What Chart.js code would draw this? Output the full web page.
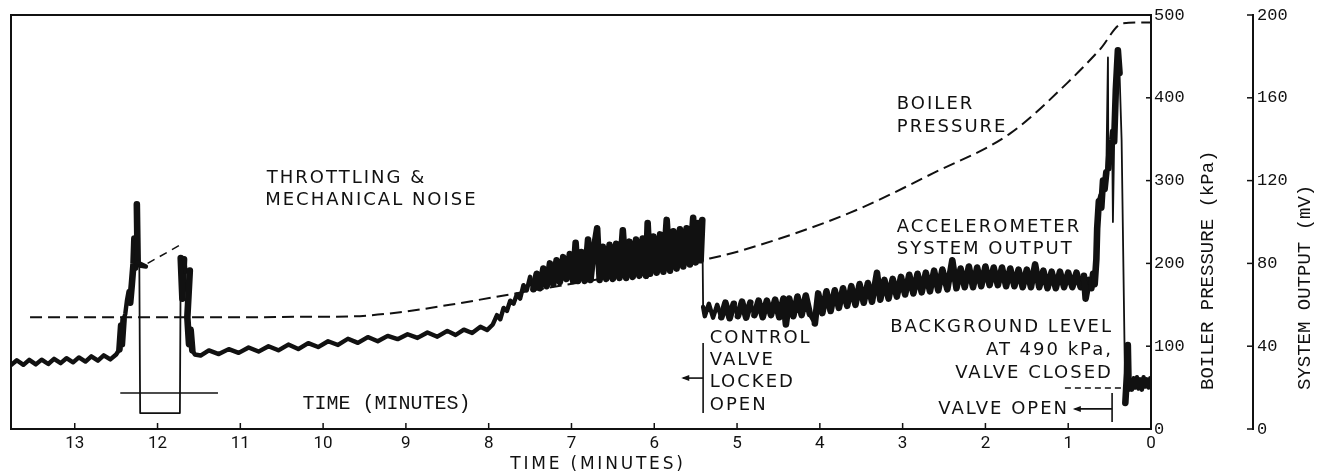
<!DOCTYPE html>
<html>
<head>
<meta charset="utf-8">
<script src="https://cdn.jsdelivr.net/npm/chart.js@4.4.1/dist/chart.umd.min.js"></script>
<style>
  html, body { margin: 0; padding: 0; background: #fff; }
  #wrap { width: 1323px; height: 476px; }
</style>
</head>
<body>
<div id="wrap"><canvas id="chart" width="1323" height="476"></canvas></div>
<script>
// tick labels
const minuteTicks   = [13, 12, 11, 10, 9, 8, 7, 6, 5, 4, 3, 2, 1, 0];
const pressureTicks = [0, 100, 200, 300, 400, 500];
const outputTicks   = [0, 40, 80, 120, 160, 200];

// accelerometer system output, [time (min), mV]
const tracePreThrottle = [
  [13.77, 30.9], [13.70, 33.2], [13.62, 31.0], [13.55, 33.4], [13.47, 31.2], [13.40, 33.5],
  [13.32, 31.4], [13.25, 33.9], [13.17, 31.8], [13.10, 34.2], [13.02, 32.2], [12.95, 34.6],
  [12.87, 32.6], [12.80, 35.1], [12.72, 33.0], [12.65, 35.6], [12.57, 33.6], [12.50, 36.0]
];
const traceThrottle = [
  [12.46, 38.5], [12.44, 50.0], [12.43, 41.0], [12.41, 53.0], [12.39, 55.5], [12.37, 62.0],
  [12.35, 66.5], [12.33, 61.0], [12.31, 70.0], [12.29, 80.0], [12.28, 92.0], [12.27, 78.0],
  [12.25, 108.5], [12.24, 80.5], [12.14, 78.5], [12.22, 79.0], [12.21, 7.7], [11.73, 7.7],
  [11.72, 82.6], [11.70, 63.0], [11.68, 82.0], [11.66, 76.0], [11.61, 76.5], [11.64, 54.0],
  [11.62, 41.0], [11.60, 48.0], [11.58, 38.0], [11.55, 36.0]
];
const traceSlowRise = [
  [11.48, 35.5], [11.38, 38.0], [11.26, 36.2], [11.14, 38.6], [11.02, 36.8], [10.90, 39.4],
  [10.78, 37.4], [10.66, 40.0], [10.54, 38.0], [10.42, 40.8], [10.30, 38.6], [10.18, 41.5],
  [10.06, 39.6], [9.94, 42.4], [9.82, 40.6], [9.70, 43.6], [9.58, 41.6], [9.46, 44.4],
  [9.34, 42.4], [9.22, 45.0], [9.10, 43.4], [8.98, 45.8], [8.86, 44.0], [8.74, 46.6],
  [8.62, 44.6], [8.50, 47.4], [8.40, 45.4], [8.30, 48.0], [8.20, 46.4], [8.10, 49.4],
  [8.02, 47.8]
];
const traceNoisy = [
  [7.95, 50.5], [7.90, 55.0], [7.86, 53.0], [7.82, 58.5], [7.78, 57.0], [7.74, 62.0],
  [7.70, 60.5], [7.66, 65.0], [7.62, 63.0], [7.58, 69.5], [7.54, 67.0], [7.50, 73.5],
  [7.46, 67.5], [7.42, 75.0], [7.38, 68.0], [7.34, 77.5], [7.30, 69.0], [7.26, 80.0],
  [7.22, 70.0], [7.18, 81.5], [7.14, 71.0], [7.10, 83.0], [7.06, 72.5], [7.02, 84.5],
  [6.98, 71.5], [6.95, 90.0], [6.92, 71.5], [6.88, 85.5], [6.84, 71.5], [6.80, 91.5],
  [6.77, 72.0], [6.73, 87.0], [6.69, 97.0], [6.66, 72.0], [6.62, 88.0], [6.58, 72.5],
  [6.54, 89.0], [6.50, 72.5], [6.46, 89.5], [6.42, 73.0], [6.38, 96.0], [6.34, 73.0],
  [6.30, 90.5], [6.26, 73.5], [6.22, 91.5], [6.18, 74.0], [6.14, 92.0], [6.10, 74.0],
  [6.08, 99.5], [6.05, 75.0], [6.01, 93.0], [5.97, 75.5], [5.93, 94.0], [5.89, 76.0],
  [5.85, 101.0], [5.81, 76.5], [5.77, 95.5], [5.73, 77.5], [5.69, 96.5], [5.65, 78.5],
  [5.61, 97.0], [5.57, 79.5], [5.53, 102.0], [5.50, 80.5], [5.47, 99.5], [5.44, 81.5],
  [5.42, 101.0], [5.41, 59.0]
];
const traceAfterLock = [
  [5.39, 54.5], [5.34, 60.5], [5.29, 53.8], [5.24, 60.0], [5.19, 54.0], [5.14, 61.0],
  [5.09, 53.5], [5.04, 60.5], [4.99, 54.5], [4.94, 61.5], [4.89, 53.8], [4.84, 61.0],
  [4.79, 55.0], [4.74, 62.0], [4.69, 54.0], [4.64, 62.0], [4.59, 55.0], [4.54, 62.5],
  [4.49, 54.0], [4.44, 63.0], [4.41, 50.5], [4.37, 63.0], [4.32, 54.5], [4.27, 64.0],
  [4.22, 55.0], [4.17, 64.5], [4.12, 55.5], [4.06, 51.0], [4.02, 65.5], [3.97, 56.0],
  [3.92, 66.5], [3.87, 57.0], [3.82, 67.0], [3.77, 58.5], [3.72, 68.0], [3.67, 59.5],
  [3.62, 69.0], [3.57, 60.0], [3.52, 70.0], [3.47, 61.0], [3.42, 70.5], [3.37, 61.5],
  [3.31, 75.5], [3.27, 62.5], [3.22, 72.0], [3.17, 63.0], [3.12, 72.5], [3.07, 64.0],
  [3.02, 73.5], [2.97, 65.0], [2.92, 74.5], [2.87, 65.5], [2.82, 75.0], [2.77, 66.0],
  [2.72, 75.5], [2.67, 66.5], [2.62, 76.5], [2.57, 67.0], [2.52, 77.0], [2.46, 67.5],
  [2.40, 81.5], [2.35, 68.0], [2.30, 77.5], [2.25, 68.5], [2.20, 78.5], [2.15, 68.5],
  [2.10, 78.0], [2.05, 69.0], [2.00, 78.5], [1.95, 69.5], [1.90, 78.0], [1.85, 69.5],
  [1.80, 78.0], [1.75, 69.0], [1.70, 77.5], [1.65, 69.0], [1.60, 77.0], [1.55, 68.5],
  [1.50, 77.0], [1.45, 68.5], [1.40, 79.5], [1.35, 68.5], [1.30, 76.5], [1.25, 68.0],
  [1.20, 76.0], [1.15, 68.0], [1.10, 76.0], [1.05, 68.5], [1.00, 75.5], [0.95, 68.5],
  [0.90, 75.5], [0.85, 68.5], [0.81, 74.0], [0.79, 63.0], [0.75, 72.0], [0.72, 68.0],
  [0.70, 75.0]
];
const traceValveOpen = [
  [0.68, 70.0], [0.66, 82.0], [0.65, 97.0], [0.63, 110.0], [0.61, 113.0], [0.60, 107.0],
  [0.58, 120.0], [0.56, 116.0], [0.54, 124.0], [0.52, 179.5], [0.515, 126.0], [0.50, 134.0],
  [0.48, 140.0], [0.47, 144.0], [0.46, 100.0], [0.445, 139.0], [0.425, 163.8], [0.40, 183.0],
  [0.38, 172.0], [0.355, 139.6], [0.31, 12.6], [0.29, 27.0], [0.28, 40.5], [0.27, 19.5],
  [0.25, 23.7], [0.23, 19.0], [0.21, 24.5], [0.19, 20.0], [0.17, 25.0], [0.15, 19.5],
  [0.13, 24.0], [0.11, 19.0], [0.09, 25.0], [0.07, 20.5], [0.05, 24.0], [0.03, 20.0],
  [0.01, 24.5], [0.00, 22.0]
];

// boiler pressure, [time (min), kPa]
const boilerPressure = [
  [13.54, 135], [12.5, 135], [11.5, 135], [10.88, 135], [10.28, 135.5], [9.67, 136],
  [9.07, 141], [8.47, 150], [7.66, 164], [6.5, 184], [5.33, 206], [4.93, 216],
  [3.64, 261], [2.63, 309], [1.70, 357], [1.01, 418], [0.62, 458], [0.34, 490], [0.0, 491]
];
const throttlePressure = [[12.12, 200], [11.68, 225]];

// reference marks, [time (min), mV]
const throttleBase  = [[12.45, 17.4], [11.27, 17.4]];
const backgroundLvl = [[1.04, 19.8], [0.34, 19.8]];
const lockedBar     = [[5.41, 41.5], [5.41, 7.7]];
const lockedArrow   = [[5.65, 24.6], [5.41, 24.6]];
const openBar       = [[0.47, 17.4], [0.47, 3.4]];
const openArrow     = [[0.92, 9.7], [0.47, 9.7]];

const ink = '#111';
const pts = arr => arr.map(p => ({x: p[0], y: p[1]}));

const notes = [
  {text: 'THROTTLING &', t: 10.68, v: 121.3},
  {text: 'MECHANICAL NOISE', t: 10.70, v: 110.6},
  {text: 'BOILER', t: 3.07, v: 156.8},
  {text: 'PRESSURE', t: 3.07, v: 145.6},
  {text: 'ACCELEROMETER', t: 3.07, v: 97.6},
  {text: 'SYSTEM OUTPUT', t: 3.07, v: 87.0},
  {text: 'CONTROL', t: 5.33, v: 44.0},
  {text: 'VALVE', t: 5.33, v: 33.3},
  {text: 'LOCKED', t: 5.33, v: 22.7},
  {text: 'OPEN', t: 5.33, v: 11.6},
  {text: 'BACKGROUND LEVEL', t: 0.46, v: 49.3, align: 'right'},
  {text: 'AT 490 kPa,', t: 0.46, v: 38.2, align: 'right'},
  {text: 'VALVE CLOSED', t: 0.46, v: 27.1, align: 'right'},
  {text: 'VALVE OPEN', t: 2.57, v: 9.7}
];

function line(ctx, x1, y1, x2, y2) {
  ctx.beginPath(); ctx.moveTo(x1, y1); ctx.lineTo(x2, y2); ctx.stroke();
}

// long jumps of the pen (spikes, the throttling drop-out) are drawn thin,
// steep noise strokes wide so the band closes up, the rest medium
function penWidth(c) {
  const dy = Math.abs(c.p1.y - c.p0.y), dx = Math.abs(c.p1.x - c.p0.x);
  if (dy > 58 || dx > 20) return 1.8;
  return dy > 14 ? 6.6 : 4.4;
}

const overlay = {
  id: 'overlay',
  afterDatasetsDraw(chart) {
    const {ctx, chartArea: a, scales: {x, kpa, mv}} = chart;
    ctx.save();
    ctx.strokeStyle = ink;
    ctx.fillStyle = ink;

    // frame top + left
    ctx.lineWidth = 2;
    ctx.beginPath();
    ctx.moveTo(a.left, a.bottom); ctx.lineTo(a.left, a.top); ctx.lineTo(a.right, a.top);
    ctx.stroke();

    // inward tick marks
    ctx.lineWidth = 1.5;
    minuteTicks.forEach(v => { const px = x.getPixelForValue(v); line(ctx, px, a.bottom, px, a.bottom - 6); });
    pressureTicks.forEach(v => { const py = kpa.getPixelForValue(v); line(ctx, a.right - 5, py, a.right, py); });
    outputTicks.forEach(v => { const py = mv.getPixelForValue(v); line(ctx, mv.left - 6, py, mv.left, py); });

    // arrow heads
    [lockedArrow[0], openArrow[0]].forEach(p => {
      const px = x.getPixelForValue(p[0]), py = mv.getPixelForValue(p[1]);
      ctx.beginPath();
      ctx.moveTo(px - 2, py); ctx.lineTo(px + 6, py - 3); ctx.lineTo(px + 6, py + 3);
      ctx.closePath(); ctx.fill();
    });

    // annotations
    ctx.font = '18px "DejaVu Sans"';
    ctx.letterSpacing = '2px';
    ctx.textBaseline = 'middle';
    notes.forEach(n => {
      ctx.textAlign = n.align || 'left';
      ctx.fillText(n.text, x.getPixelForValue(n.t), mv.getPixelForValue(n.v));
    });

    ctx.font = '20px "Liberation Mono"';
    ctx.letterSpacing = '0px';
    ctx.textAlign = 'left';
    ctx.fillText('TIME (MINUTES)', x.getPixelForValue(10.25), mv.getPixelForValue(12.1));

    // axis titles
    ctx.font = '17px "DejaVu Sans"';
    ctx.letterSpacing = '2.8px';
    ctx.textAlign = 'center';
    ctx.fillText('TIME (MINUTES)', x.getPixelForValue(6.68), a.bottom + 36);

    ctx.font = '19px "Liberation Mono"';
    ctx.letterSpacing = '0px';
    ctx.textAlign = 'left';
    [[kpa.left + 57, 'BOILER PRESSURE (kPa)'], [mv.left + 52, 'SYSTEM OUTPUT (mV)']].forEach(t => {
      ctx.save();
      ctx.translate(t[0], a.bottom - 39);
      ctx.rotate(-Math.PI / 2);
      ctx.fillText(t[1], 0, 0);
      ctx.restore();
    });
    ctx.restore();
  }
};

const thin = {borderColor: ink, borderWidth: 1.6, pointRadius: 0, tension: 0, yAxisID: 'mv'};

new Chart(document.getElementById('chart'), {
  type: 'line',
  data: {
    datasets: [
      {
        label: 'Accelerometer system output',
        data: pts([].concat(tracePreThrottle, traceThrottle, traceSlowRise, traceNoisy, traceAfterLock, traceValveOpen)),
        borderColor: ink, borderWidth: 4.4, borderJoinStyle: 'round', borderCapStyle: 'round',
        pointRadius: 0, tension: 0, yAxisID: 'mv',
        segment: {borderWidth: penWidth}
      },
      {
        label: 'Boiler pressure',
        data: pts(boilerPressure),
        borderColor: ink, borderWidth: 2, borderDash: [12, 6], pointRadius: 0,
        cubicInterpolationMode: 'monotone', yAxisID: 'kpa'
      },
      {
        label: 'Boiler pressure (throttling)',
        data: pts(throttlePressure),
        borderColor: ink, borderWidth: 1.5, borderDash: [8, 6], pointRadius: 0, yAxisID: 'kpa'
      },
      Object.assign({label: 'Throttle base', data: pts(throttleBase)}, thin),
      Object.assign({label: 'Background level', data: pts(backgroundLvl), borderDash: [6, 4]}, thin),
      Object.assign({label: 'Locked bar', data: pts(lockedBar)}, thin),
      Object.assign({label: 'Locked arrow', data: pts(lockedArrow)}, thin),
      Object.assign({label: 'Open bar', data: pts(openBar)}, thin),
      Object.assign({label: 'Open arrow', data: pts(openArrow)}, thin)
    ]
  },
  options: {
    responsive: false,
    animation: false,
    events: [],
    layout: {padding: {left: 11, top: 15, right: 0, bottom: 0}},
    plugins: {legend: {display: false}, tooltip: {enabled: false}},
    scales: {
      x: {
        type: 'linear', position: 'bottom', reverse: true, min: 0, max: 13.77,
        grid: {display: false, drawTicks: false},
        border: {display: true, color: ink, width: 2},
        ticks: {color: ink, font: {family: 'Roboto', size: 17}, padding: 5, autoSkip: false, maxRotation: 0, includeBounds: false},
        afterBuildTicks: s => { s.ticks = minuteTicks.map(v => ({value: v})); },
        afterFit: s => { s.height = 47; }
      },
      kpa: {
        type: 'linear', position: 'right', min: 0, max: 500, weight: 0,
        grid: {display: false, drawTicks: false},
        border: {display: true, color: ink, width: 2},
        ticks: {color: ink, font: {family: 'Liberation Mono', size: 17}, padding: 3},
        afterBuildTicks: s => { s.ticks = pressureTicks.map(v => ({value: v})); },
        afterFit: s => { s.width = 102; }
      },
      mv: {
        type: 'linear', position: 'right', min: 0, max: 200, weight: 1,
        grid: {display: false, drawTicks: false},
        border: {display: true, color: ink, width: 2},
        ticks: {color: ink, font: {family: 'Liberation Mono', size: 17}, padding: 4},
        afterBuildTicks: s => { s.ticks = outputTicks.map(v => ({value: v})); },
        afterFit: s => { s.width = 70; }
      }
    }
  },
  plugins: [overlay]
});
</script>
</body>
</html>
